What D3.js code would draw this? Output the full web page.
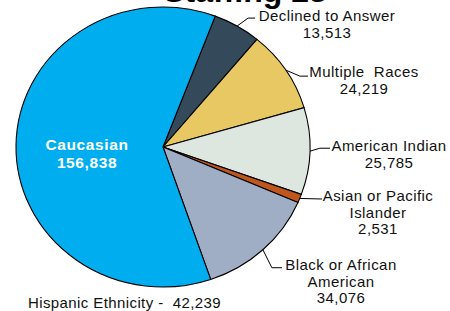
<!DOCTYPE html>
<html>
<head>
<meta charset="utf-8">
<script src="https://cdn.jsdelivr.net/npm/d3@7"></script>
<style>
  body { margin: 0; background: #fff; }
  svg { display: block; font-family: Arial, "Liberation Sans", sans-serif; }
</style>
</head>
<body>
<div id="chart"></div>
<script>
// chart values
const categories = ["Declined to Answer", "Multiple Races", "American Indian", "Asian or Pacific Islander", "Black or African American", "Caucasian"];
const values = [13513, 24219, 25785, 2531, 34076, 156838];
const colors = ["#34495a", "#e8c862", "#dde6df", "#c1561d", "#a0aec5", "#00aeef"];
const hispanic = 42239;
const title = "Staffing 23";

// label lines (how the category names wrap)
const labelLines = [
  ["Declined to Answer"],
  ["Multiple  Races"],
  ["American Indian"],
  ["Asian or Pacific", "Islander"],
  ["Black or African", "American"],
  ["Caucasian"]
];

const W = 450, H = 311;
const cx = 163, cy = 147, ry = 140, sx = 1.05; // pie is a bit wider than tall
const fmt = d3.format(",");

const svg = d3.select("#chart").append("svg")
  .attr("width", W)
  .attr("height", H);

// title (cut off at the top in the original)
svg.append("text")
  .attr("x", 245)
  .attr("y", 2)
  .attr("text-anchor", "middle")
  .attr("font-size", 32)
  .attr("font-weight", "bold")
  .text(title);

const pie = d3.pie()
  .sort(null)
  .startAngle(20.8 * Math.PI / 180)
  .endAngle(20.8 * Math.PI / 180 + 2 * Math.PI);

const arcs = pie(values);
const arc = d3.arc().innerRadius(0).outerRadius(ry);

const g = svg.append("g")
  .attr("transform", "translate(" + cx + "," + cy + ") scale(" + sx + ",1)");

g.selectAll("path")
  .data(arcs)
  .enter()
  .append("path")
  .attr("d", arc)
  .attr("fill", (d, i) => colors[i])
  .attr("stroke", "#000")
  .attr("stroke-width", 1.1)
  .attr("vector-effect", "non-scaling-stroke");

// point on the pie edge at a slice's middle angle
function edgePoint(d) {
  const a = (d.startAngle + d.endAngle) / 2;
  const p = d3.pointRadial(a, ry);
  return [cx + p[0] * sx, cy + p[1]];
}

// where each outside label goes: elbow offset, end of leader, text centre and first baseline
const labelPos = [
  { elbow: [11, -8], end: [255, 18], tx: 327, ty: 21 },
  { elbow: [14, 6], end: [308, 76], tx: 364, ty: 77 },
  { elbow: [10, -3], end: [330, 148], tx: 389, ty: 151 },
  { elbow: null, end: [322, 199], tx: 378, ty: 201 },
  { elbow: [9, 18], end: [282, 268], tx: 341, ty: 270 }
];

const line = d3.line();
const lh = 16.6;

labelPos.forEach((lp, i) => {
  const s = edgePoint(arcs[i]);
  const pts = [s];
  if (lp.elbow) pts.push([s[0] + lp.elbow[0], s[1] + lp.elbow[1]]);
  pts.push([lp.end[0], lp.elbow ? s[1] + lp.elbow[1] : lp.end[1]]);
  svg.append("path")
    .attr("d", line(pts))
    .attr("fill", "none")
    .attr("stroke", "#000")
    .attr("stroke-width", 1);

  const rows = labelLines[i].concat([fmt(values[i])]);
  const t = svg.append("text")
    .attr("text-anchor", "middle")
    .attr("font-size", 15)
    .attr("letter-spacing", 0.45)
    .attr("fill", "#111");
  rows.forEach((r, k) => {
    t.append("tspan")
      .attr("x", lp.tx)
      .attr("y", lp.ty + k * lh)
      .style("white-space", "pre")
      .text(r);
  });
});

// Caucasian label inside the slice
const inside = svg.append("text")
  .attr("text-anchor", "middle")
  .attr("font-size", 15.5)
  .attr("font-weight", "bold")
  .attr("letter-spacing", 0.6)
  .attr("fill", "#fff");
[labelLines[5][0], fmt(values[5])].forEach((r, k) => {
  inside.append("tspan")
    .attr("x", 87)
    .attr("y", 150 + k * 18)
    .text(r);
});

// footnote
svg.append("text")
  .attr("x", 28)
  .attr("y", 308)
  .attr("font-size", 15)
  .attr("letter-spacing", 0.4)
  .attr("fill", "#111")
  .style("white-space", "pre")
  .text("Hispanic Ethnicity -  " + fmt(hispanic));
</script>
</body>
</html>
